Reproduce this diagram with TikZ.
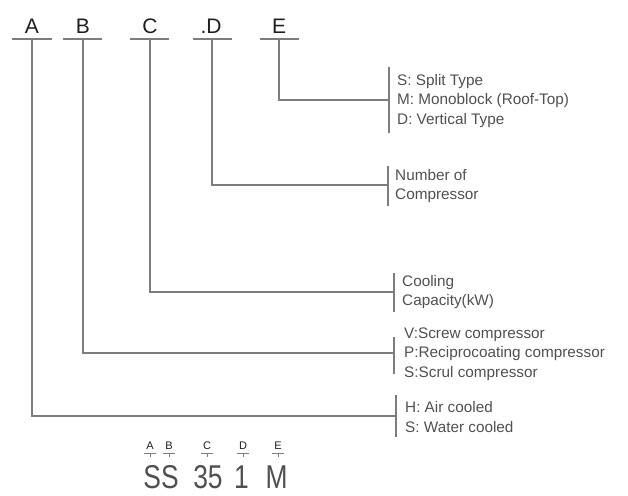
\documentclass[tikz,border=0pt]{standalone}
\usepackage{fontspec}
\setmainfont{Liberation Sans}
\definecolor{lineGrey}{RGB}{125,125,125}
\definecolor{textGrey}{RGB}{80,80,80}
\definecolor{capBlack}{RGB}{30,30,30}
\tikzset{
  codeLetter/.style={text=capBlack, font=\fontsize{21}{21}\selectfont, inner sep=0pt},
  codeLine/.style={draw=lineGrey, line width=1.3pt},
  descText/.style={anchor=west, align=left, text=textGrey, inner sep=0pt, font=\fontsize{15.3}{19.5}\selectfont},
  modelText/.style={text=textGrey, inner sep=0pt, anchor=base, font=\fontsize{33}{33}\selectfont, xscale=0.8},
  smallLetter/.style={text=capBlack, inner sep=0pt, anchor=base, font=\fontsize{11}{11}\selectfont},
}
\begin{document}
\begin{tikzpicture}[x=1pt,y=1pt,yscale=-1,xscale=1]
\useasboundingbox (0,0) rectangle (628,495);

% Header letters
\node[codeLetter] (hA) at (32,26) {A};
\node[codeLetter] (hB) at (83,26) {B};
\node[codeLetter] (hC) at (150,26) {C};
\node[codeLetter] (hD) at (211,26) {.D};
\node[codeLetter] (hE) at (279,26) {E};
% Underlines
\draw[codeLine] (12,39) -- (52,39);
\draw[codeLine] (63,39) -- (102,39);
\draw[codeLine] (130,39) -- (169,39);
\draw[codeLine] (193,39) -- (232,39);
\draw[codeLine] (260,39) -- (299,39);
\coordinate (uA) at (32,39);
\coordinate (uB) at (83,39);
\coordinate (uC) at (150,39);
\coordinate (uD) at (212,39);
\coordinate (uE) at (279,39);

% Brackets
\coordinate (brE) at (389,100);
\coordinate (brD) at (388,185);
\coordinate (brC) at (394,292);
\coordinate (brB) at (394,353);
\coordinate (brA) at (396,416);
\draw[codeLine] (389,67) -- (389,133);
\draw[codeLine] (388,166) -- (388,206);
\draw[codeLine] (394,273) -- (394,312);
\draw[codeLine] (394,337) -- (394,374);
\draw[codeLine] (396,395) -- (396,437);

% Connectors
\draw[codeLine] (uE) |- (brE);
\draw[codeLine] (uD) |- (brD);
\draw[codeLine] (uC) |- (brC);
\draw[codeLine] (uB) |- (brB);
\draw[codeLine] (uA) |- (brA);

% Text Node
\node[descText] (dE) at (397,101) {S: Split Type\\M: Monoblock (Roof-Top)\\D: Vertical Type};
\node[descText] (dD) at (395,186) {Number of\\Compressor};
\node[descText] (dC) at (402,292) {Cooling\\Capacity(kW)};
\node[descText] (dB) at (404,354) {V:Screw compressor\\P:Reciprocoating compressor\\S:Scrul compressor};
\node[descText] (dA) at (405,417) {H: Air cooled\\S: Water cooled};

% Model example
\node[smallLetter] (sA) at (150,449) {A};
\node[smallLetter] (sB) at (169,449) {B};
\node[smallLetter] (sC) at (207,449) {C};
\node[smallLetter] (sD) at (243,449) {D};
\node[smallLetter] (sE) at (278,449) {E};
\foreach \x in {150,169,207,243,278}
  \draw[lineGrey, line width=0.9pt] (\x-6,453) -- (\x+6,453) (\x,453) -- (\x,457);
\node[modelText] (mAB) at (161,488) {SS};
\node[modelText] (mC) at (208,488) {35};
\node[modelText] (mD) at (241.5,488) {1};
\node[modelText] (mE) at (276.5,488) {M};

\end{tikzpicture}
\end{document}
